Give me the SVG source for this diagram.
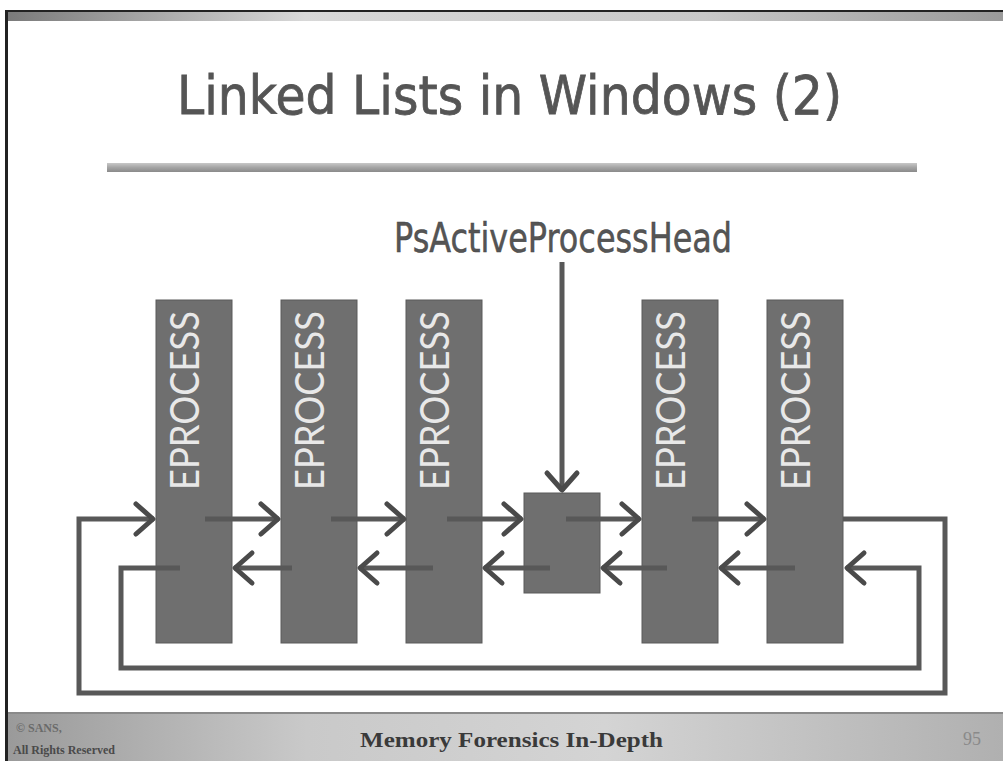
<svg xmlns="http://www.w3.org/2000/svg" width="1003" height="761" viewBox="0 0 1003 761">
<style>
.box{fill:#6f6f6f;stroke:#5a5a5a;stroke-width:1}
.lbl{font-family:"Lato","Open Sans",sans-serif;font-size:40px;fill:#e8e8e8}
.ln{fill:none;stroke:#585858;stroke-width:5}
.title{font-family:"DejaVu Sans",Verdana,sans-serif;fill:#555555}
</style>
<defs>
<marker id="ah" markerUnits="userSpaceOnUse" markerWidth="40" markerHeight="40" viewBox="-25 -20 30 40" refX="0" refY="0" orient="auto">
<path d="M-18,-15 L-1,0 L-18,15" fill="none" stroke="#4a4a4a" stroke-width="5" stroke-linejoin="round" stroke-linecap="round"/>
</marker>
<linearGradient id="topband" x1="0" y1="0" x2="1" y2="0">
<stop offset="0" stop-color="#7a7a7a"/><stop offset="0.3" stop-color="#d8d8d8"/><stop offset="0.7" stop-color="#c8c8c8"/><stop offset="1" stop-color="#9a9a9a"/>
</linearGradient>
<linearGradient id="bar" x1="0" y1="0" x2="0" y2="1">
<stop offset="0" stop-color="#c8c8c8"/><stop offset="0.5" stop-color="#a4a4a4"/><stop offset="1" stop-color="#8a8a8a"/>
</linearGradient>
<linearGradient id="foot" x1="0" y1="0" x2="1" y2="0">
<stop offset="0" stop-color="#9a9a9a"/><stop offset="0.3" stop-color="#c9c9c9"/><stop offset="0.6" stop-color="#d4d4d4"/><stop offset="1" stop-color="#b0b0b0"/>
</linearGradient>
</defs>
<rect x="0" y="0" width="1003" height="761" fill="#ffffff"/>
<!-- frame -->
<rect x="6" y="12" width="997" height="9" fill="url(#topband)"/>
<rect x="6" y="10" width="997" height="2" fill="#222"/>
<rect x="5" y="10" width="3" height="751" fill="#222"/>
<!-- title -->
<text class="title" x="177" y="114" font-size="53" textLength="665" lengthAdjust="spacingAndGlyphs" stroke="#555555" stroke-width="0.8">Linked Lists in Windows (2)</text>
<rect x="107" y="163" width="810" height="9" fill="url(#bar)"/>
<!-- head label -->
<g id="head">
<text class="title" x="563" y="252" font-size="41" text-anchor="middle" textLength="338" lengthAdjust="spacingAndGlyphs" fill="#444" stroke="#444" stroke-width="0.5">PsActiveProcessHead</text>
</g>
<!-- nodes -->
<g id="p1"><rect class="box" x="156" y="300" width="76" height="343"/><text class="lbl" transform="translate(199,490) rotate(-90)" textLength="179" lengthAdjust="spacingAndGlyphs">EPROCESS</text></g>
<g id="p2"><rect class="box" x="281" y="300" width="76" height="343"/><text class="lbl" transform="translate(324,490) rotate(-90)" textLength="179" lengthAdjust="spacingAndGlyphs">EPROCESS</text></g>
<g id="p3"><rect class="box" x="406" y="300" width="76" height="343"/><text class="lbl" transform="translate(449,490) rotate(-90)" textLength="179" lengthAdjust="spacingAndGlyphs">EPROCESS</text></g>
<g id="headnode"><rect class="box" x="524" y="493" width="76" height="100"/></g>
<g id="p4"><rect class="box" x="642" y="300" width="76" height="343"/><text class="lbl" transform="translate(685,490) rotate(-90)" textLength="179" lengthAdjust="spacingAndGlyphs">EPROCESS</text></g>
<g id="p5"><rect class="box" x="767" y="300" width="76" height="343"/><text class="lbl" transform="translate(810,490) rotate(-90)" textLength="179" lengthAdjust="spacingAndGlyphs">EPROCESS</text></g>
<!-- connectors -->
<g id="connectors">
<path class="ln" d="M562,262 V491" stroke-width="4" marker-end="url(#ah)"/>
<path class="ln" d="M843,519 H945 V693 H79 V519 H154" marker-end="url(#ah)"/>
<path class="ln" d="M205,519 H279" marker-end="url(#ah)"/>
<path class="ln" d="M331,519 H405" marker-end="url(#ah)"/>
<path class="ln" d="M447,519 H522" marker-end="url(#ah)"/>
<path class="ln" d="M566,519 H640" marker-end="url(#ah)"/>
<path class="ln" d="M692,519 H765" marker-end="url(#ah)"/>
<path class="ln" d="M180,568 H121 V668 H919 V568 H846" marker-end="url(#ah)"/>
<path class="ln" d="M292,568 H234" marker-end="url(#ah)"/>
<path class="ln" d="M433,568 H359" marker-end="url(#ah)"/>
<path class="ln" d="M550,568 H484" marker-end="url(#ah)"/>
<path class="ln" d="M667,568 H602" marker-end="url(#ah)"/>
<path class="ln" d="M795,568 H720" marker-end="url(#ah)"/>
</g>
<!-- footer -->
<rect x="8" y="713" width="995" height="48" fill="url(#foot)"/>
<rect x="8" y="712" width="995" height="2" fill="#8a8a8a"/>
<text x="16" y="732" font-family="Liberation Serif,serif" font-size="12" font-weight="bold" fill="#6a6a6a">© SANS,</text>
<text x="13" y="754" font-family="Liberation Serif,serif" font-size="12" font-weight="bold" fill="#4a4a4a">All Rights Reserved</text>
<text x="360" y="747" font-family="Liberation Serif,serif" font-size="22" font-weight="bold" fill="#3a3a3a" textLength="303" lengthAdjust="spacingAndGlyphs">Memory Forensics In-Depth</text>
<text x="963" y="745" font-family="Liberation Serif,serif" font-size="18" fill="#8a8a8a">95</text>
</svg>
